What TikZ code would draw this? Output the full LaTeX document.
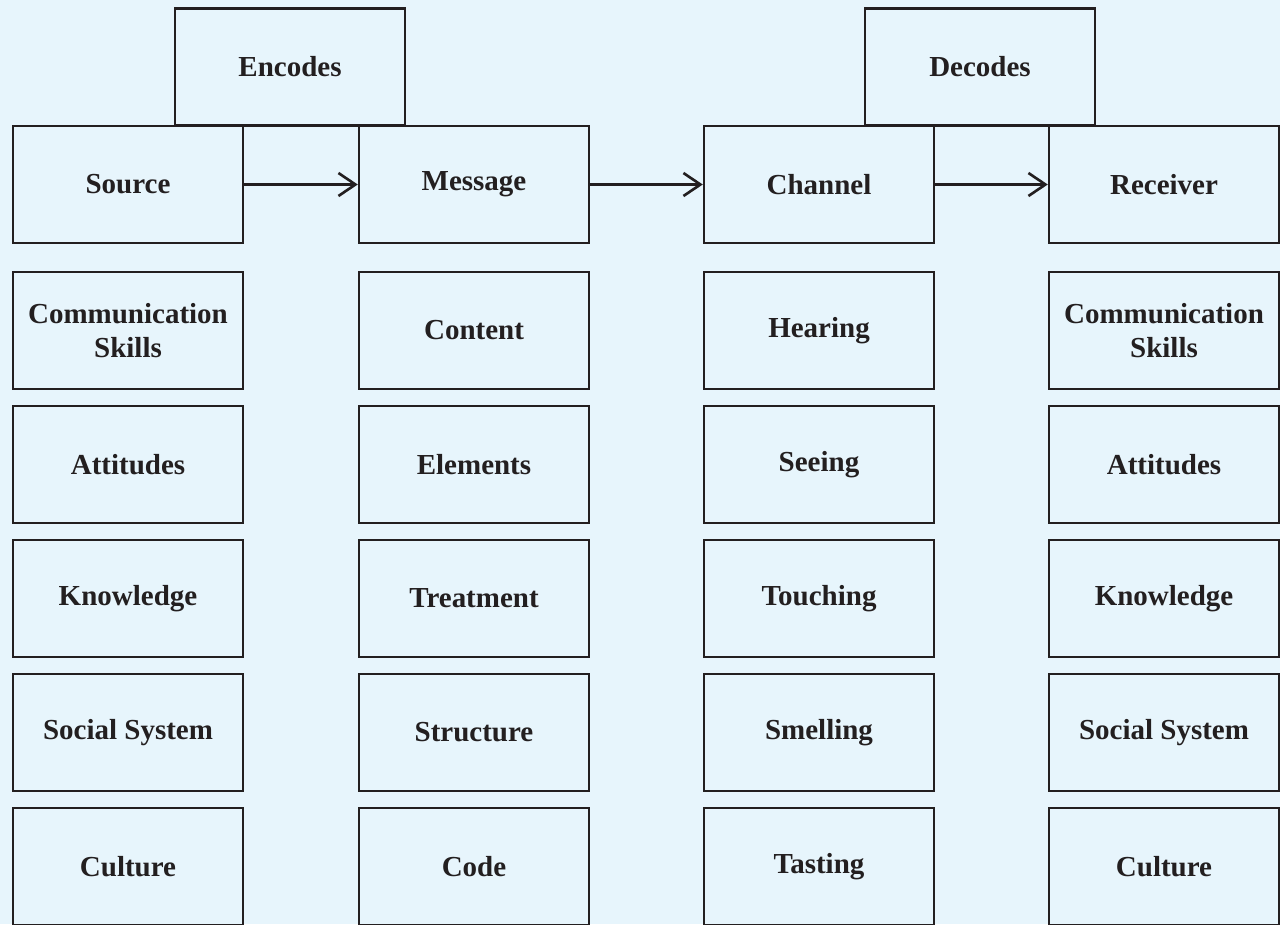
\documentclass[tikz,border=0pt]{standalone}
\usepackage{fontspec}
\setmainfont{Liberation Serif}
\usetikzlibrary{arrows.meta,positioning}
\definecolor{paper}{HTML}{E7F5FC}
\definecolor{ink}{HTML}{231F20}

\begin{document}
\begin{tikzpicture}[x=0.02cm,y=-0.02cm,
    box/.style={draw=ink,fill=paper,line width=1.4pt,minimum width=4.6cm,minimum height=2.34cm,
      inner sep=0pt,align=center,text=ink,font=\fontsize{16.5}{19.5}\selectfont\bfseries},
    flow/.style={draw=ink,line width=1.5pt,-{Straight Barb[length=3.4mm,width=4.6mm]}}]
      \clip (0,0) rectangle (1280,924);
      \fill[paper] (0,0) rectangle (1280,924);
      % top line: S -> M -> C -> R
      \node[box] (encodes) at (290,67) {Encodes};
      \node[box] (decodes) at (980,67) {Decodes};
      \node[box] (source) at (128,184.5) {Source};
      \node[box] (message) at (474,184.5) {Message};
      \node[box] (channel) at (819,184.5) {Channel};
      \node[box] (receiver) at (1164,184.5) {Receiver};
      \draw[flow] (source) -- (message);
      \draw[flow] (message) -- (channel);
      \draw[flow] (channel) -- (receiver);
      % the columns below each element
      \foreach \txt [count=\i] in {{Communication\\Skills},Attitudes,Knowledge,{Social System},Culture}
        \node[box] (src-\i) at (128,196.5+134*\i) {\txt};
      \foreach \txt [count=\i] in {Content,Elements,Treatment,Structure,Code}
        \node[box] (msg-\i) at (474,196.5+134*\i) {\txt};
      \foreach \txt [count=\i] in {Hearing,Seeing,Touching,Smelling,Tasting}
        \node[box] (chn-\i) at (819,196.5+134*\i) {\txt};
      \foreach \txt [count=\i] in {{Communication\\Skills},Attitudes,Knowledge,{Social System},Culture}
        \node[box] (rcv-\i) at (1164,196.5+134*\i) {\txt};
\end{tikzpicture}
\end{document}
